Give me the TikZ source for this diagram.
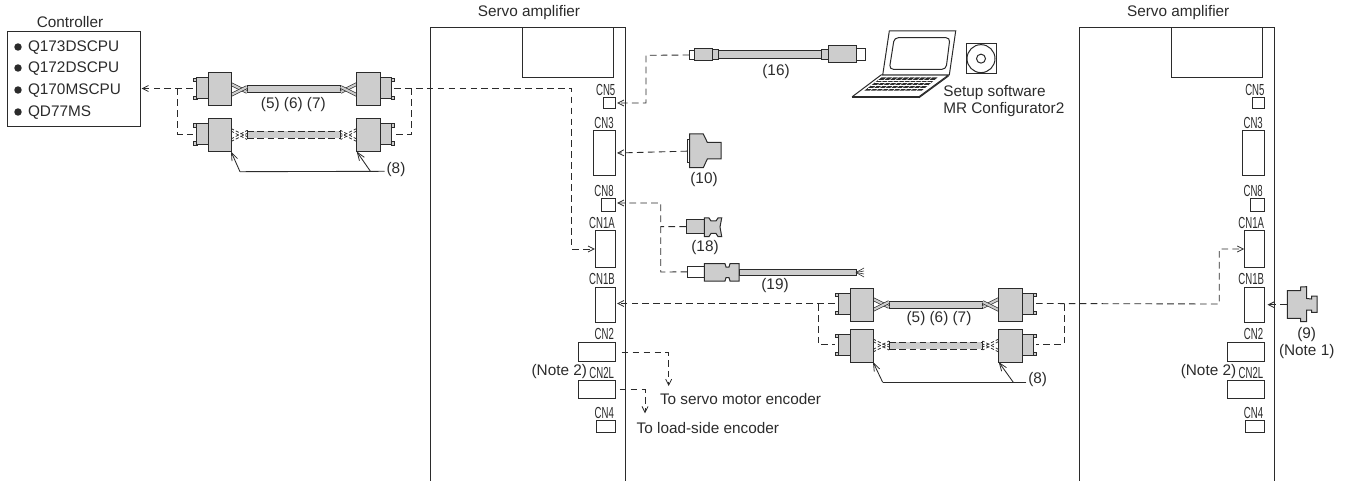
\documentclass[tikz,border=0pt]{standalone}
\usepackage{fontspec}
\setmainfont{Liberation Sans}
\newfontfamily\cnfont[FakeStretch=0.6]{Liberation Sans}
\usetikzlibrary{arrows.meta}
\definecolor{ink}{HTML}{2B2B2B}
\definecolor{plug}{HTML}{CDCDCD}
\tikzset{
 ln/.style={draw=ink,line width=0.75pt},
 boxst/.style={ln,fill=white,inner sep=0pt,outer sep=0pt},
 grayst/.style={ln,fill=plug,inner sep=0pt,outer sep=0pt},
 txt/.style={inner sep=0pt,outer sep=0pt,text=ink,font=\fontsize{11.5pt}{13pt}\selectfont},
 cn/.style={inner sep=0pt,outer sep=0pt,text=ink,font=\cnfont\fontsize{12pt}{13pt}\selectfont},
 dsh/.style={draw=ink,line width=0.65pt,dash pattern=on 5pt off 3.2pt},
 arr/.style={-{Straight Barb[length=4.5pt,width=4.5pt,line width=0.6pt]}},
 leader/.style={draw=ink,line width=0.65pt},
 larr/.style={-{Straight Barb[length=6pt,width=4.5pt,line width=0.6pt]}},
 dot/.style={circle,fill=ink,inner sep=0pt,outer sep=0pt,minimum size=5.6pt},
}
% [style]{x1}{y1}{x2}{y2}{name}
\newcommand\bx[6][boxst]{\node[#1,minimum width={(#4-#2)*0.75pt},minimum height={(#5-#3)*0.75pt}] (#6) at ({(#2+#4)/2},{(#3+#5)/2}) {};}
% one row of a cable: name, vertical shift, line style for wires
\newcommand\cablerow[3]{%
\begin{scope}[shift={(0,#2)}]
 \fill[plug] (247.3,86) rectangle (340.7,93);
 \ifnum#3=0
  \draw[ln] (247.3,86) rectangle (340.7,93);
  \foreach \a/\b in {231/247,356.7/340.7}{
   \foreach \p/\q in {84/92,95/87}{
    \draw[ink,line width=2.6pt] (\a,\p) -- (\b,\q);
    \draw[plug,line width=1.6pt] (\a,\p) -- (\b,\q);}}
 \else
  \draw[dsh,dash pattern=on 5pt off 2.6pt] (247.3,86) -- (340.7,86) (247.3,93) -- (340.7,93);
  \draw[ln] (247.3,85) -- (247.3,94) (340.7,85) -- (340.7,94);
  \foreach \a/\b in {231/247,356.7/340.7}{
   \foreach \p/\q in {83/91,85.5/94,93.5/85,96/88}{
    \draw[ink,line width=0.55pt,dash pattern=on 2.5pt off 1.5pt] (\a,\p) -- (\b,\q);}}
 \fi
 \foreach \y in {80,98}{
  \draw[grayst] (193.5,\y-1.6) rectangle (197,\y+1.6);
  \draw[grayst] (391,\y-1.6) rectangle (394.5,\y+1.6);}
 \bx[grayst]{196.7}{78}{208}{99}{#1-ls}
 \bx[grayst]{208}{73}{231}{106}{#1-lb}
 \bx[grayst]{380}{78}{391.5}{99}{#1-rs}
 \bx[grayst]{356.7}{73}{380}{106}{#1-rb}
 \coordinate (#1-L) at (193,88.5);
 \coordinate (#1-R) at (394,88.5);
\end{scope}}
% amplifier: prefix, x shift
\newcommand\servo[2]{%
\begin{scope}[shift={(#2,0)}]
 \draw[ln] (430.7,481) -- (430.7,28) -- (625.7,28) -- (625.7,481);
 \node[txt] (#1-title) at (529,13) {Servo amplifier};
 \bx{522.3}{28}{613.7}{78}{#1-disp}
 \bx{603.3}{97.7}{615}{108.3}{#1-cn5}
 \bx{593.7}{130.7}{615}{175.3}{#1-cn3}
 \bx{601.7}{198.3}{615}{211.3}{#1-cn8}
 \bx{595.7}{231}{615.7}{267}{#1-cn1a}
 \bx{595.7}{287}{615.7}{322.7}{#1-cn1b}
 \bx{578}{342.7}{615.7}{361.7}{#1-cn2}
 \bx{578}{380}{615.7}{398.7}{#1-cn2l}
 \bx{596.7}{420.3}{615}{432.7}{#1-cn4}
 \node[cn] (#1-l5) at (605.7,90) {CN5};
 \node[cn] (#1-l3) at (604,122.7) {CN3};
 \node[cn] (#1-l8) at (604,191) {CN8};
 \node[cn] (#1-l1a) at (602,223.3) {CN1A};
 \node[cn] (#1-l1b) at (602,279.3) {CN1B};
 \node[cn] (#1-l2) at (604.3,334.3) {CN2};
 \node[cn] (#1-l2l) at (601.7,372.7) {CN2L};
 \node[cn] (#1-l4) at (604.3,412.7) {CN4};
 \node[txt] (#1-n2) at (559.3,371.7) {(Note 2)};
\end{scope}}
\begin{document}
\begin{tikzpicture}[x=0.75pt,y=-0.75pt]
\useasboundingbox (0,0) rectangle (1346,481);
% controller
\bx{7.3}{32}{140}{127}{ctrl}
\node[txt] (ctrltitle) at (70,22) {Controller};
\foreach \i/\y/\t in {1/48/Q173DSCPU,2/69/Q172DSCPU,3/91/Q170MSCPU,4/113/QD77MS}{
 \node[dot] (b\i) at (18,\y-1) {};
 \node[txt,anchor=west] (q\i) at (28,\y) {\t};
}
% amplifiers
\servo{sa}{0}
\servo{sb}{649.2}
% cable pairs
\begin{scope}
 \cablerow{at}{0}{0}
 \cablerow{ab}{45.5}{1}
\end{scope}
\begin{scope}[shift={(642,215)}]
 \cablerow{bt}{0}{0}
 \cablerow{bb}{41}{1}
\end{scope}
\node[txt] (l567a) at (293.3,105) {(5) (6) (7)};
\node[txt] (l567b) at (939,318.3) {(5) (6) (7)};
\node[txt] (l8a) at (396,169.3) {(8)};
\node[txt] (l8b) at (1037.7,379.3) {(8)};
% leaders
\coordinate (k1) at (240,171.7); \coordinate (k2) at (370.7,171.7);
\draw[leader] (l8a.west) ++(-2,2) -- (k1);
\draw[leader,larr] (k1) -- (ab-lb.south east);
\draw[leader,larr] (k2) -- (ab-rb.south west);
\coordinate (k3) at (882.7,382.3); \coordinate (k4) at (1013.3,382.3);
\draw[leader] (l8b.west) ++(-2,3) -- (k3);
\draw[leader,larr] (k3) -- (bb-lb.south east);
\draw[leader,larr] (k4) -- (bb-rb.south west);
% USB cable 16
\bx{689.3}{50.7}{694}{59.3}{u1}
\bx[grayst]{694}{48.3}{712.3}{61}{u2}
\bx[grayst]{712.3}{50}{718.3}{60}{u3}
\bx[grayst]{718.3}{51}{821.7}{58.3}{u4}
\bx[grayst]{821.7}{49.3}{828.3}{60}{u5}
\bx[grayst]{828.3}{46}{856.7}{62.7}{u6}
\bx{856.7}{49}{865.7}{60.7}{u7}
\node[txt] (l16) at (776,71.7) {(16)};
% laptop
\draw[ln,line join=round,fill=white] (881,75) -- (948.5,75) -- (919,96.7) -- (852.3,96.7) -- cycle;
\draw[ln] (852.3,96.7) -- (852.3,97.7) -- (919,97.7) -- (919,96.7);
\draw[ln] (919,97.7) -- (948.5,76);
\draw[ln,fill=white] (889.3,31) -- (955.7,31) -- (949.3,75) -- (882.7,75) -- cycle;
\draw[ln,rounded corners=3pt] (894.3,37.7) -- (950,37.7) -- (946,69.3) -- (889.3,69.3) -- cycle;
\fill[ink] (881.7,77.3) -- (937.7,77.3) -- (921.7,90.7) -- (864.3,90.7) -- cycle;
\foreach \f in {0.2,0.4,0.6,0.8}{
 \draw[white,line width=0.35pt] ({881.7-17.4*\f},{77.3+13.4*\f}) -- ({937.7-16*\f},{77.3+13.4*\f});}
\foreach \f in {0.1,0.2,...,0.95}{
 \draw[white,line width=0.35pt] ({881.7+56*\f},77.3) -- ({864.3+57.4*\f},90.7);}
% CD
\bx{966}{44}{996}{73.3}{cd}
\draw[ln] (cd.center) circle[radius=14];
\draw[ln] (cd.center) circle[radius=4.5];
\node[txt,anchor=west] (s1) at (943.3,92.3) {Setup software};
\node[txt,anchor=west] (s2) at (943.3,110) {MR Configurator2};
% connector 10
\bx{687.3}{140}{689.5}{162.3}{c10p}
\draw[grayst] (689.5,134) -- (703.3,134) -- (707.3,142.3) -- (721,142.3) -- (721,159) -- (707.3,159) -- (703.3,167.7) -- (689.5,167.7) -- cycle;
\node[txt] (l10) at (704,180) {(10)};
% connector 18
\bx[grayst]{686}{220}{704.3}{233.3}{c18}
\draw[grayst] (704.3,218) -- (709,218) -- (711,221) -- (716,221) -- (718,218) -- (721.7,218) -- (720,227) -- (721.7,236.5) -- (718,236.5) -- (716,233.5) -- (711,233.5) -- (709,236.5) -- (704.3,236.5) -- cycle;
\node[txt] (l18) at (705,247.3) {(18)};
% connector 19
\bx{687.3}{266}{704.3}{277.7}{c19w}
\draw[grayst] (704.3,263.7) -- (725,263.7) -- (726,267) -- (729,267) -- (730,263.7) -- (739,263.7) -- (739,281) -- (730,281) -- (729,277.7) -- (726,277.7) -- (725,281) -- (704.3,281) -- cycle;
\bx[grayst]{739}{269.3}{856}{275.7}{c19c}
\foreach \q in {268,271,274,277}{\draw[ink,line width=0.45pt] (856,272.5) -- (864,\q);}
\node[txt] (l19) at (775,286) {(19)};
% connector 9
\draw[grayst] (1287.3,290.7) -- (1300.7,290.7) -- (1300.7,287) -- (1306.7,286.7) -- (1306.7,298.5) -- (1311.7,299) -- (1311.7,296) -- (1317,296) -- (1317,312.3) -- (1311.7,312.3) -- (1311.7,310) -- (1306.7,310) -- (1306.7,321.7) -- (1300.7,321.7) -- (1300.7,318.3) -- (1287.3,318.3) -- cycle;
\coordinate (c9) at (1286.5,304.7);
\node[txt] (l9) at (1306.7,334.3) {(9)};
\node[txt] (n1) at (1306.7,352) {(Note 1)};
\node[txt] (enc1) at (660,399) [anchor=west] {To servo motor encoder};
\node[txt] (enc2) at (636.7,427.7) [anchor=west] {To load-side encoder};
% dashed connections, first pair
\draw[dsh,arr] (at-L) -- ([xshift=1.2pt]ctrl.east |- at-L);
\coordinate (abr) at (177.7,88.5);
\draw[dsh] (abr) |- (ab-L);
\coordinate (arv) at (571.7,88.5);
\draw[dsh,arr] (at-R) -- (arv) |- ([xshift=-.6pt]sa-cn1a.west);
\coordinate (abr2) at (411.7,88.5);
\draw[dsh] (abr2) |- (ab-R);
% CN5, CN3, CN8
\coordinate (cv5) at (646,55.3);
\draw[dsh,arr] (u1.west) -- (cv5) |- ([xshift=1.5pt]sa-cn5.east);
\draw[dsh,arr] (c10p.west) -- ([xshift=1.5pt]sa-cn3.east);
\coordinate (cv8) at (660.7,203);
\coordinate (c19a) at (660.7,272);
\draw[dsh,arr] (c19w.west) -- (c19a) -- (cv8) -- ([xshift=1.5pt]sa-cn8.east |- cv8);
\coordinate (c18a) at (660.7,226.6);
\draw[dsh] (c18.west) -- (c18a);
% second pair
\draw[dsh,arr] (bt-L) -- ([xshift=1pt]sa-cn1b.east |- bt-L);
\coordinate (bbr) at (818,304);
\draw[dsh] (bbr) |- (bb-L);
\coordinate (brv) at (1219.3,304);
\draw[dsh,arr] (bt-R) -- (brv) |- ([xshift=-.6pt]sb-cn1a.west);
\coordinate (bbr2) at (1064,304);
\draw[dsh] (bbr2) |- (bb-R);
\draw[dsh,arr] (c9) -- ([xshift=2pt]sb-cn1b.east |- c9);
% encoders
\coordinate (e1) at (668.7,386); \coordinate (e2) at (645,413.3);
\draw[dsh,arr] ([xshift=4.5pt]sa-cn2.east) -| (e1);
\draw[dsh,arr] ([xshift=3pt]sa-cn2l.east) -| (e2);
\end{tikzpicture}
\end{document}
